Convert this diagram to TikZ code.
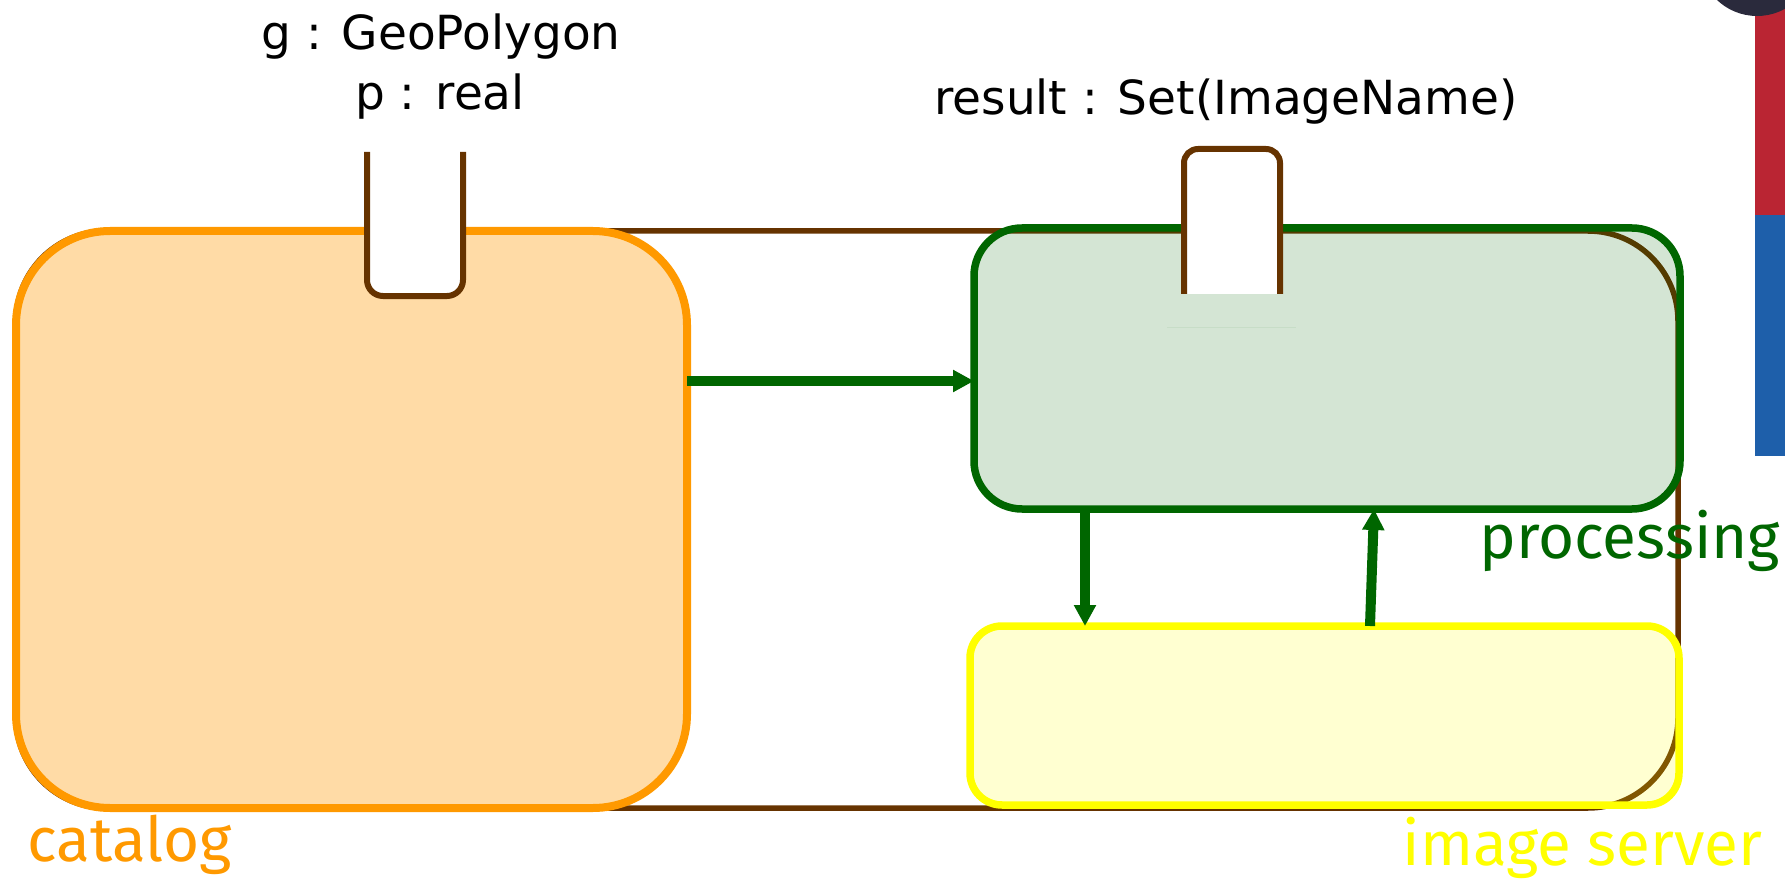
\documentclass[tikz,border=0pt]{standalone}
\usepackage{fontspec}
\setmainfont{Fira Sans}
\newfontfamily\sigfont{DejaVu Sans}
\usetikzlibrary{arrows.meta,positioning}

\definecolor{catorange}{HTML}{FF9900}
\definecolor{procgreen}{HTML}{006600}
\definecolor{srvyellow}{HTML}{FFFF00}
\definecolor{framebrown}{HTML}{663300}
\definecolor{barred}{HTML}{BA2533}
\definecolor{barblue}{HTML}{1E5FAA}
\definecolor{globe}{HTML}{2A2A3C}
\definecolor{procfill}{HTML}{D4E5D4}

\begin{document}
\begin{tikzpicture}[x=0.5pt, y=-0.5pt,
      box/.style={rectangle, inner sep=0pt, outer sep=0pt},
      sysframe/.style={box, draw=framebrown, line width=2.75pt, rounded corners=45pt,
                       minimum width=831pt, minimum height=288.5pt},
      catbox/.style={box, draw=catorange, fill=catorange, fill opacity=.35, line width=4pt,
                     rounded corners=47pt, minimum width=335.5pt, minimum height=288.5pt},
      procbox/.style={box, draw=procgreen, fill=procgreen, fill opacity=.17, line width=3.75pt,
                      rounded corners=24pt, minimum width=353pt, minimum height=140.5pt},
      srvbox/.style={box, draw=srvyellow, fill=srvyellow, fill opacity=.18, line width=3.75pt,
                     rounded corners=16pt, minimum width=354.5pt, minimum height=89.5pt},
      port/.style={draw=framebrown, fill=white, line width=3pt, rounded corners=8pt},
      flow/.style={-{Triangle[length=10.5pt, width=10.5pt]}, line width=5pt, draw=procgreen},
      sig/.style={font=\sigfont\fontsize{23.5}{30}\selectfont, inner sep=0pt, anchor=base},
      lbl/.style={font=\fontsize{31}{36}\selectfont, inner sep=0pt}]
    \useasboundingbox (0,0) rectangle (1785,883);

    % system frame behind the three parts
    \node[sysframe] (sys) at (847,519.5) {};
    \node[catbox] (cat) at (351.5,519.5) {};
    \node[procbox] (proc) at (1327,368.5) {};
    \node[srvbox] (srv) at (1324.5,715.5) {};

    % ports
    \filldraw[port] (367,152) -- (367,296) -- (463,296) -- (463,152);
    \filldraw[port, rounded corners=7pt] (1184,294) -- (1184,149) -- (1280,149) -- (1280,294);
    \fill[procfill] (1167,294) rectangle (1296,327);
    \draw[procgreen!22, line width=.5pt] (1167,327) -- (1296,327);

    \node[sig] (ing) at (441,50) {g : GeoPolygon};
    \node[sig] (inp) at (440,110) {p : real};
    \node[sig] (outres) at (1226,115) {result : Set(ImageName)};

    % connectors
    \coordinate (a1) at (0,381);
    \coordinate (d1) at (1085,0);
    \coordinate (u0) at (1370,0);
    \coordinate (u1) at (1374,0);
    \draw[flow] (cat.east |- a1) -- (proc.west |- a1);
    \draw[flow] (proc.south -| d1) -- (srv.north -| d1);
    \draw[flow] (srv.north -| u0) -- (proc.south -| u1);

    \node[lbl, text=catorange, anchor=base west] (catname) at (27,861) {catalog};
    \node[lbl, text=procgreen, anchor=base west] (procname) at (1479,558) {processing};
    \node[lbl, text=srvyellow, anchor=base east] (srvname) at (1763,865) {image server};

    % corner bar
    \fill[barred] (1755,0) rectangle (1785,215);
    \fill[barblue] (1755,215) rectangle (1785,456);
    \begin{scope}
      \clip (0,0) rectangle (1785,883);
      \fill[globe] (1757,-42) circle (58);
    \end{scope}
  \end{tikzpicture}
\end{document}
